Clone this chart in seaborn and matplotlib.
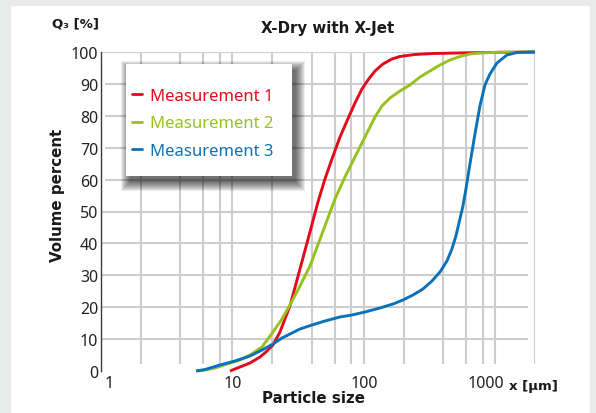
import numpy as np
import pandas as pd
import seaborn as sns
import matplotlib
matplotlib.use("Agg")
import matplotlib.pyplot as plt
from matplotlib.patches import Rectangle
from matplotlib.lines import Line2D
from matplotlib.transforms import ScaledTranslation
from matplotlib.ticker import NullLocator

# ---------------- data ----------------
series_names = ["Measurement 1", "Measurement 2", "Measurement 3"]
series_colors = ["#e30a1c", "#97c11f", "#0b72b9"]

m1_size = [9.57, 11.4, 13.59, 16.19, 17.98, 20.32, 22.98, 25.07, 27.37, 32.61, 38.86, 44.68,
           50.51, 57.1, 65.7, 74.27, 85.42, 96.56, 107.3, 121.3, 139.5, 163.3, 187.8, 244.3,
           334.8, 607.3, 1082, 2000]
m1_q3 = [0.0, 1.25, 2.5, 4.39, 5.96, 8.15, 12.23, 16.3, 20.38, 31.97, 43.57, 52.98,
         60.19, 66.46, 73.35, 78.37, 84.01, 88.4, 91.22, 94.04, 96.24, 97.81, 98.59, 99.22,
         99.53, 99.75, 99.9, 100.0]

m2_size = [5.37, 6.18, 7.36, 9.08, 11.4, 13.59, 16.77, 20.32, 23.79, 27.37, 32.61, 38.86,
           47.93, 60.18, 71.72, 78.26, 93.25, 107.3, 121.3, 137.1, 157.6, 187.8, 223.8, 266.7,
           317.7, 378.5, 450.8, 537.0, 640.1, 762.3, 1082, 2000]
m2_q3 = [0.0, 0.31, 0.94, 2.19, 3.45, 5.02, 7.52, 12.23, 16.3, 20.69, 26.65, 32.92,
         42.95, 53.92, 60.82, 63.95, 70.22, 75.24, 79.62, 83.07, 85.58, 87.77, 89.66, 92.16,
         94.04, 95.92, 97.49, 98.59, 99.37, 99.69, 99.94, 100.0]

m3_size = [5.28, 6.18, 8.03, 10.45, 13.59, 16.77, 20.32, 23.79, 27.37, 32.61, 40.24, 50.51,
           65.7, 81.05, 101.8, 132.4, 166.2, 198.0, 235.9, 281.0, 329.0, 378.5, 427.8, 466.9,
           500.6, 537.0, 566.1, 596.8, 640.1, 698.6, 762.3, 832.3, 908.2, 1026.7, 1223, 1457, 2000]
m3_q3 = [0.0, 0.47, 1.88, 3.13, 4.7, 6.58, 8.46, 10.34, 11.6, 13.17, 14.42, 15.67,
         16.93, 17.55, 18.5, 19.75, 21.0, 22.26, 23.82, 25.71, 28.21, 31.03, 34.48, 38.24,
         42.32, 47.65, 51.72, 57.05, 64.89, 74.29, 83.07, 89.66, 93.1, 96.55, 99.06, 99.84, 100.0]

x_ticks = [1, 10, 100, 1000]
x_ticklabels = ["1", "10", "100", "1000"]
y_ticks = list(range(0, 101, 10))

title = "X-Dry with X-Jet"
y_label = "Volume percent"
x_label = "Particle size"
y_unit = "Q\u2083 [%]"
x_unit = "x [\u00b5m]"

df = pd.concat([
    pd.DataFrame({"size": m1_size, "q3": m1_q3, "series": series_names[0]}),
    pd.DataFrame({"size": m2_size, "q3": m2_q3, "series": series_names[1]}),
    pd.DataFrame({"size": m3_size, "q3": m3_q3, "series": series_names[2]}),
], ignore_index=True)

# ---------------- style ----------------
sns.set_theme(style="white")
plt.rcParams["font.family"] = ["Noto Sans", "DejaVu Sans"]

W, H = 596, 414
fig = plt.figure(figsize=(W / 100, H / 100), dpi=100)
fig.patch.set_facecolor("#e9ebea")
fig.patches.append(Rectangle((11 / W, 0), (590 - 11) / W, (H - 7) / H,
                             transform=fig.transFigure, facecolor="white",
                             edgecolor="none", zorder=-5))

ax = fig.add_axes([101 / W, 1 - 372 / H, 434 / W, 319 / H])
ax.set_facecolor("white")
ax.set_xscale("log")
ax.set_xlim(1, 2000)
ax.set_ylim(0, 100)

# grid (drawn as segments like the reference)
grid_c = "#cdcdcd"
vx = [2, 4, 6, 8, 10, 20, 40, 60, 80, 100, 200, 400, 600, 800, 1000, 2000]
ax.vlines(vx, 2.2, 100, colors=grid_c, lw=1.5, zorder=1)
ax.hlines([10, 20, 30, 40, 50], 1.0, 1770, colors=grid_c, lw=1.5, zorder=1)
ax.hlines([60, 70, 80, 90], 1.08, 1770, colors=grid_c, lw=1.5, zorder=1)
ax.hlines([100], 1.0, 2000, colors=grid_c, lw=1.5, zorder=1)

sns.lineplot(data=df, x="size", y="q3", hue="series",
             palette=dict(zip(series_names, series_colors)),
             hue_order=series_names, estimator=None, sort=False,
             legend=False, lw=2.1, ax=ax)
for ln in ax.lines:
    ln.set_clip_on(False)
    ln.set_zorder(4)
    ln.set_solid_capstyle("butt")
    ln.set_solid_joinstyle("round")

for s in ["top", "right", "bottom"]:
    ax.spines[s].set_visible(False)
ax.spines["left"].set_color("#3c3c3c")
ax.spines["left"].set_linewidth(1.0)

ax.set_xticks(x_ticks)
ax.set_xticklabels(x_ticklabels)
ax.xaxis.set_minor_locator(NullLocator())
ax.set_yticks(y_ticks)
ax.set_yticklabels([str(v) for v in y_ticks])
ax.tick_params(length=0, labelsize=11.5, labelcolor="#222222")
ax.tick_params(axis="y", pad=2)
ax.tick_params(axis="x", pad=3)
ax.grid(False)

xl = ax.get_xticklabels()
xl[0].set_transform(xl[0].get_transform() + ScaledTranslation(8 / 100, 0, fig.dpi_scale_trans))
xl[3].set_transform(xl[3].get_transform() + ScaledTranslation(-9.5 / 100, 0, fig.dpi_scale_trans))

bold = dict(family="DejaVu Sans", fontweight="bold", color="#1a1a1a")
ax.set_xlabel(x_label, fontsize=10.8, **bold)
ax.xaxis.set_label_coords((314 - 101) / 434, (372 - 391) / 319)
ax.set_ylabel(y_label, fontsize=10.8, **bold)
ax.yaxis.set_label_coords((65 - 101) / 434, (372 - 195) / 319)

fig.text(328 / W, 1 - 29 / H, title, ha="center", va="center", fontsize=10.8, **bold)
fig.text(99 / W, 1 - 24 / H, y_unit, ha="right", va="center", fontsize=9.5, **bold)
fig.text(533 / W, 1 - 387 / H, x_unit, ha="center", va="center", fontsize=9.5, **bold)

# legend box with soft shadow
bx0, by0, bx1, by1 = 126, 65, 292, 177
dx, dy = 4, 6
for k in range(10):
    ax.add_patch(Rectangle(((bx0 + dx - k) / W, 1 - (by1 + dy + k) / H),
                           (bx1 - bx0 + 2 * k) / W, (by1 - by0 + 2 * k) / H,
                           transform=fig.transFigure, facecolor="black",
                           edgecolor="none", alpha=0.075, zorder=2.8, clip_on=False))
ax.add_patch(Rectangle((bx0 / W, 1 - by1 / H), (bx1 - bx0) / W, (by1 - by0) / H,
                       transform=fig.transFigure, facecolor="white",
                       edgecolor="none", zorder=3, clip_on=False))

handles = [Line2D([], [], color=c, lw=2.0) for c in series_colors]
leg = ax.legend(handles, series_names, loc="upper left",
                bbox_to_anchor=(132 / W, 1 - 89 / H), bbox_transform=fig.transFigure,
                frameon=False, borderpad=0, borderaxespad=0, handlelength=0.6,
                handletextpad=0.45, labelspacing=0.68, fontsize=12,
                labelcolor="linecolor")
leg.set_zorder(6)

fig.savefig("out.png", dpi=100, facecolor=fig.get_facecolor())
